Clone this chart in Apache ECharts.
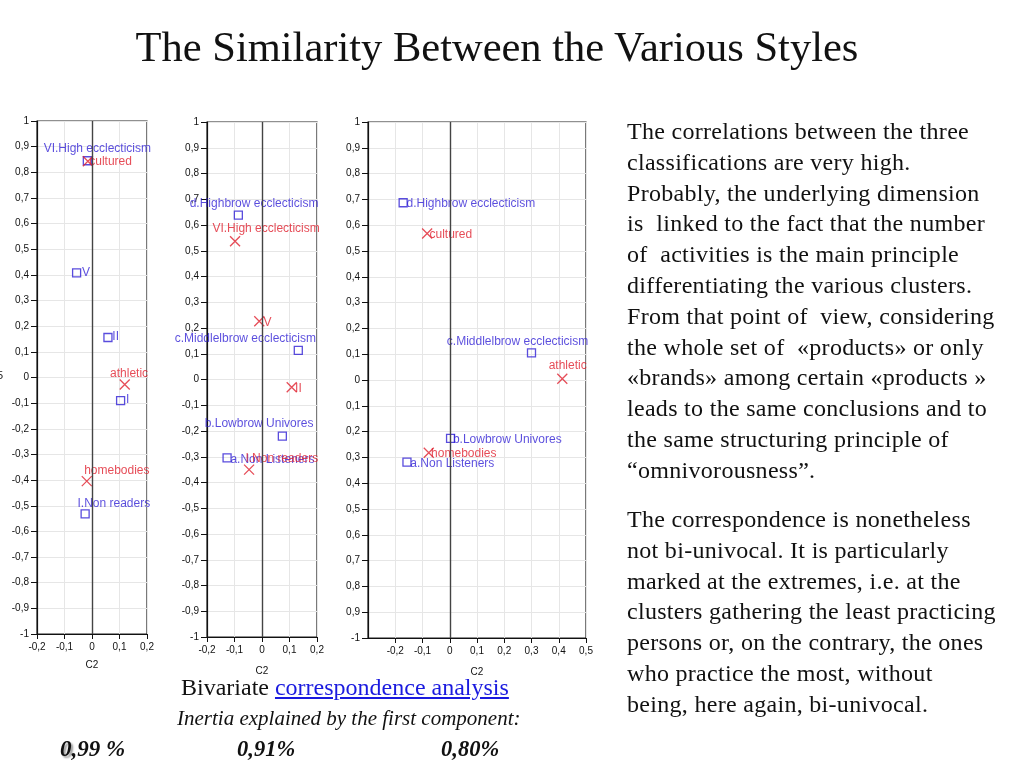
<!DOCTYPE html>
<html>
<head>
<meta charset="utf-8">
<script src="https://cdn.jsdelivr.net/npm/echarts@6/dist/echarts.min.js"></script>
<style>
  html, body { margin:0; padding:0; background:#fff; }
  #wrap { position:relative; width:1024px; height:768px; overflow:hidden; }
  #chart { position:absolute; left:0; top:0; width:1024px; height:768px; }
  .t { position:absolute; font-family:"Liberation Serif","DejaVu Serif",serif; color:#111; white-space:pre; }
  #title { left:0; width:994px; top:22px; text-align:center; font-size:42.5px; line-height:50px; }
  .para { left:627px; font-size:24px; line-height:30.8px; letter-spacing:0.3px; }
  .link { color:#1a1adf; text-decoration:underline; }
</style>
</head>
<body>
<div id="wrap">
  <div id="chart"></div>
  <div id="title" class="t">The Similarity Between the Various Styles</div>
  <div class="t para" style="top:116px;">The correlations between the three
classifications are very high.
Probably, the underlying dimension
is  linked to the fact that the number
of  activities is the main principle
differentiating the various clusters.
From that point of  view, considering
the whole set of  «products» or only
«brands» among certain «products »
leads to the same conclusions and to
the same structuring principle of
“omnivorousness”.</div>
  <div class="t para" style="top:504px;">The correspondence is nonetheless
not bi-univocal. It is particularly
marked at the extremes, i.e. at the
clusters gathering the least practicing
persons or, on the contrary, the ones
who practice the most, without
being, here again, bi-univocal.</div>
  <div class="t" style="left:181px; top:672px; font-size:24px; line-height:30px;">Bivariate <span class="link">correspondence analysis</span></div>
  <div class="t" style="left:177px; top:704px; font-size:21px; line-height:28px; font-style:italic;">Inertia explained by the first component:</div>
  <div class="t" style="left:60px; top:735px; font-size:23px; line-height:28px; font-style:italic; font-weight:bold;"><span style="text-shadow:2px 2px 2px #999;">0</span>,99 %</div>
  <div class="t" style="left:237px; top:735px; font-size:22.5px; line-height:28px; font-style:italic; font-weight:bold;">0,91%</div>
  <div class="t" style="left:441px; top:735px; font-size:22.5px; line-height:28px; font-style:italic; font-weight:bold;">0,80%</div>
</div>
<script>
// ---------- DATA ----------
// Panel 1: reading clusters (blue squares) vs sport styles (red crosses)
const p1BlueNames = ['VI.High ecclecticism', 'V', 'II', 'I', 'I.Non readers'];
const p1BlueX = [-0.017, -0.056, 0.058, 0.104, -0.025];
const p1BlueY = [0.845, 0.408, 0.156, -0.090, -0.532];
const p1RedNames = ['cultured', 'athletic', 'homebodies'];
const p1RedX = [-0.015, 0.119, -0.019];
const p1RedY = [0.843, -0.027, -0.404];

// Panel 2: music clusters (blue squares) vs reading clusters (red crosses)
const p2BlueNames = ['d.Highbrow ecclecticism', 'c.Middlelbrow ecclecticism', 'b.Lowbrow Univores', 'a.Non Listeners'];
const p2BlueX = [-0.086, 0.132, 0.074, -0.127];
const p2BlueY = [0.638, 0.113, -0.220, -0.304];
const p2RedNames = ['VI.High ecclecticism', 'V', 'II', 'I.Non readers'];
const p2RedX = [-0.098, -0.010, 0.108, -0.047];
const p2RedY = [0.537, 0.226, -0.030, -0.350];

// Panel 3: music clusters (blue squares) vs sport styles (red crosses)
const p3BlueNames = ['d.Highbrow ecclecticism', 'c.Middlelbrow ecclecticism', 'b.Lowbrow Univores', 'a.Non Listeners'];
const p3BlueX = [-0.171, 0.300, 0.003, -0.157];
const p3BlueY = [0.687, 0.105, -0.226, -0.318];
const p3RedNames = ['cultured', 'athletic', 'homebodies'];
const p3RedX = [-0.083, 0.413, -0.077];
const p3RedY = [0.568, 0.005, -0.282];

const yTicks = { min: -1, max: 1, step: 0.1 };
const xTicks = [
  { min: -0.2, max: 0.2, step: 0.1 },
  { min: -0.2, max: 0.2, step: 0.1 },
  { min: -0.3, max: 0.5, step: 0.1 }
];
const xAxisTitle = 'C2';

// ---------- LABEL PLACEMENT (pixel offsets of label from point) ----------
const p1BlueLbl = [[-43, -11], [6, 0], [5, 0], [6, 0], [-7, -10]];
const p1RedLbl = [[2, 1], [-14, -10], [-2, -10]];
const p2BlueLbl = [[-48, -11], [-123, -11], [-77, -12], [4, 3]];
const p2RedLbl = [[-22, -12], [5, 2], [4, 2], [-3, -10]];
const p3BlueLbl = [[4, 2], [-84, -11], [3, 2], [4, 2]];
const p3RedLbl = [[3, 2], [-13, -12], [3, 2]];

// ---------- STYLE ----------
const BLUE = '#2f1fd4';
const RED = '#e0202e';
const SQ = 8, CR = 10;
const sansFont = '"Liberation Sans", Arial, sans-serif';

const grids = [
  { left: 37, top: 121, width: 110, height: 513 },
  { left: 207, top: 122, width: 110, height: 515 },
  { left: 368, top: 122, width: 218, height: 516 }
];
const nameGaps = [26, 29, 29];
const panelYLabelFormat = [
  v => fmt(v),
  v => fmt(v),
  v => (v <= -1 + 1e-9 ? fmt(v) : fmt(Math.abs(v)))
];

function fmt(v) {
  let r = Math.round(v * 10) / 10;
  if (Math.abs(r) < 1e-9) r = 0;
  return String(r).replace('.', ',');
}

function makeData(names, xs, ys, lbls, size) {
  return names.map((n, i) => ({
    name: n,
    value: [xs[i], ys[i]],
    label: { position: [lbls[i][0] + size / 2, lbls[i][1] + size / 2] }
  }));
}

const panels = [
  { bn: p1BlueNames, bx: p1BlueX, by: p1BlueY, bl: p1BlueLbl, rn: p1RedNames, rx: p1RedX, ry: p1RedY, rl: p1RedLbl },
  { bn: p2BlueNames, bx: p2BlueX, by: p2BlueY, bl: p2BlueLbl, rn: p2RedNames, rx: p2RedX, ry: p2RedY, rl: p2RedLbl },
  { bn: p3BlueNames, bx: p3BlueX, by: p3BlueY, bl: p3BlueLbl, rn: p3RedNames, rx: p3RedX, ry: p3RedY, rl: p3RedLbl }
];

const option = {
  animation: false,
  backgroundColor: '#fff',
  grid: grids.map(g => Object.assign({ show: true, borderColor: '#222', borderWidth: 1.2, backgroundColor: 'transparent' }, g)),
  xAxis: xTicks.map((t, i) => ({
    type: 'value', gridIndex: i, min: t.min, max: t.max, interval: t.step,
    name: xAxisTitle, nameLocation: 'middle', nameGap: nameGaps[i],
    nameTextStyle: { fontFamily: sansFont, fontSize: 10, color: '#111' },
    axisLine: { show: true, onZero: false, lineStyle: { color: '#111', width: 1.2 } },
    axisTick: { show: true, length: 5, lineStyle: { color: '#111' } },
    axisLabel: { fontFamily: sansFont, fontSize: 10, color: '#111', margin: 8, showMinLabel: i !== 2, formatter: fmt },
    splitLine: { show: true, lineStyle: { color: '#e6e6e6', width: 1 } }
  })),
  yAxis: grids.map((g, i) => ({
    type: 'value', gridIndex: i, min: yTicks.min, max: yTicks.max, interval: yTicks.step,
    axisLine: { show: true, onZero: false, lineStyle: { color: '#111', width: 1.2 } },
    axisTick: { show: true, length: 6, lineStyle: { color: '#111' } },
    axisLabel: { fontFamily: sansFont, fontSize: 10, color: '#111', margin: 8, formatter: panelYLabelFormat[i] },
    splitLine: { show: true, lineStyle: { color: '#e6e6e6', width: 1 } }
  })),
  series: [],
  graphic: [
    { type: 'text', left: -3, top: 370, style: { text: '5', font: '11px ' + sansFont, fill: '#222' } }
  ]
};

panels.forEach((p, i) => {
  option.series.push({
    type: 'scatter', xAxisIndex: i, yAxisIndex: i, z: 3,
    symbol: 'rect', symbolSize: SQ,
    itemStyle: { color: 'rgba(0,0,0,0)', borderColor: BLUE, borderWidth: 1.3 },
    label: { show: true, formatter: '{b}', color: BLUE, fontFamily: sansFont, fontSize: 12, align: 'left', verticalAlign: 'middle' },
    emphasis: { disabled: true },
    data: makeData(p.bn, p.bx, p.by, p.bl, SQ),
    markLine: {
      silent: true, symbol: 'none', label: { show: false },
      lineStyle: { color: '#444', width: 1.4, type: 'solid' },
      data: [{ xAxis: 0 }]
    }
  });
  option.series.push({
    type: 'scatter', xAxisIndex: i, yAxisIndex: i, z: 4,
    symbol: 'path://M0,0L10,10M10,0L0,10', symbolSize: CR,
    itemStyle: { color: 'rgba(0,0,0,0)', borderColor: RED, borderWidth: 1.3 },
    label: { show: true, formatter: '{b}', color: RED, fontFamily: sansFont, fontSize: 12, align: 'left', verticalAlign: 'middle' },
    emphasis: { disabled: true },
    data: makeData(p.rn, p.rx, p.ry, p.rl, CR)
  });
});

const chart = echarts.init(document.getElementById('chart'), null, { renderer: 'canvas' });
chart.setOption(option);
</script>
</body>
</html>
